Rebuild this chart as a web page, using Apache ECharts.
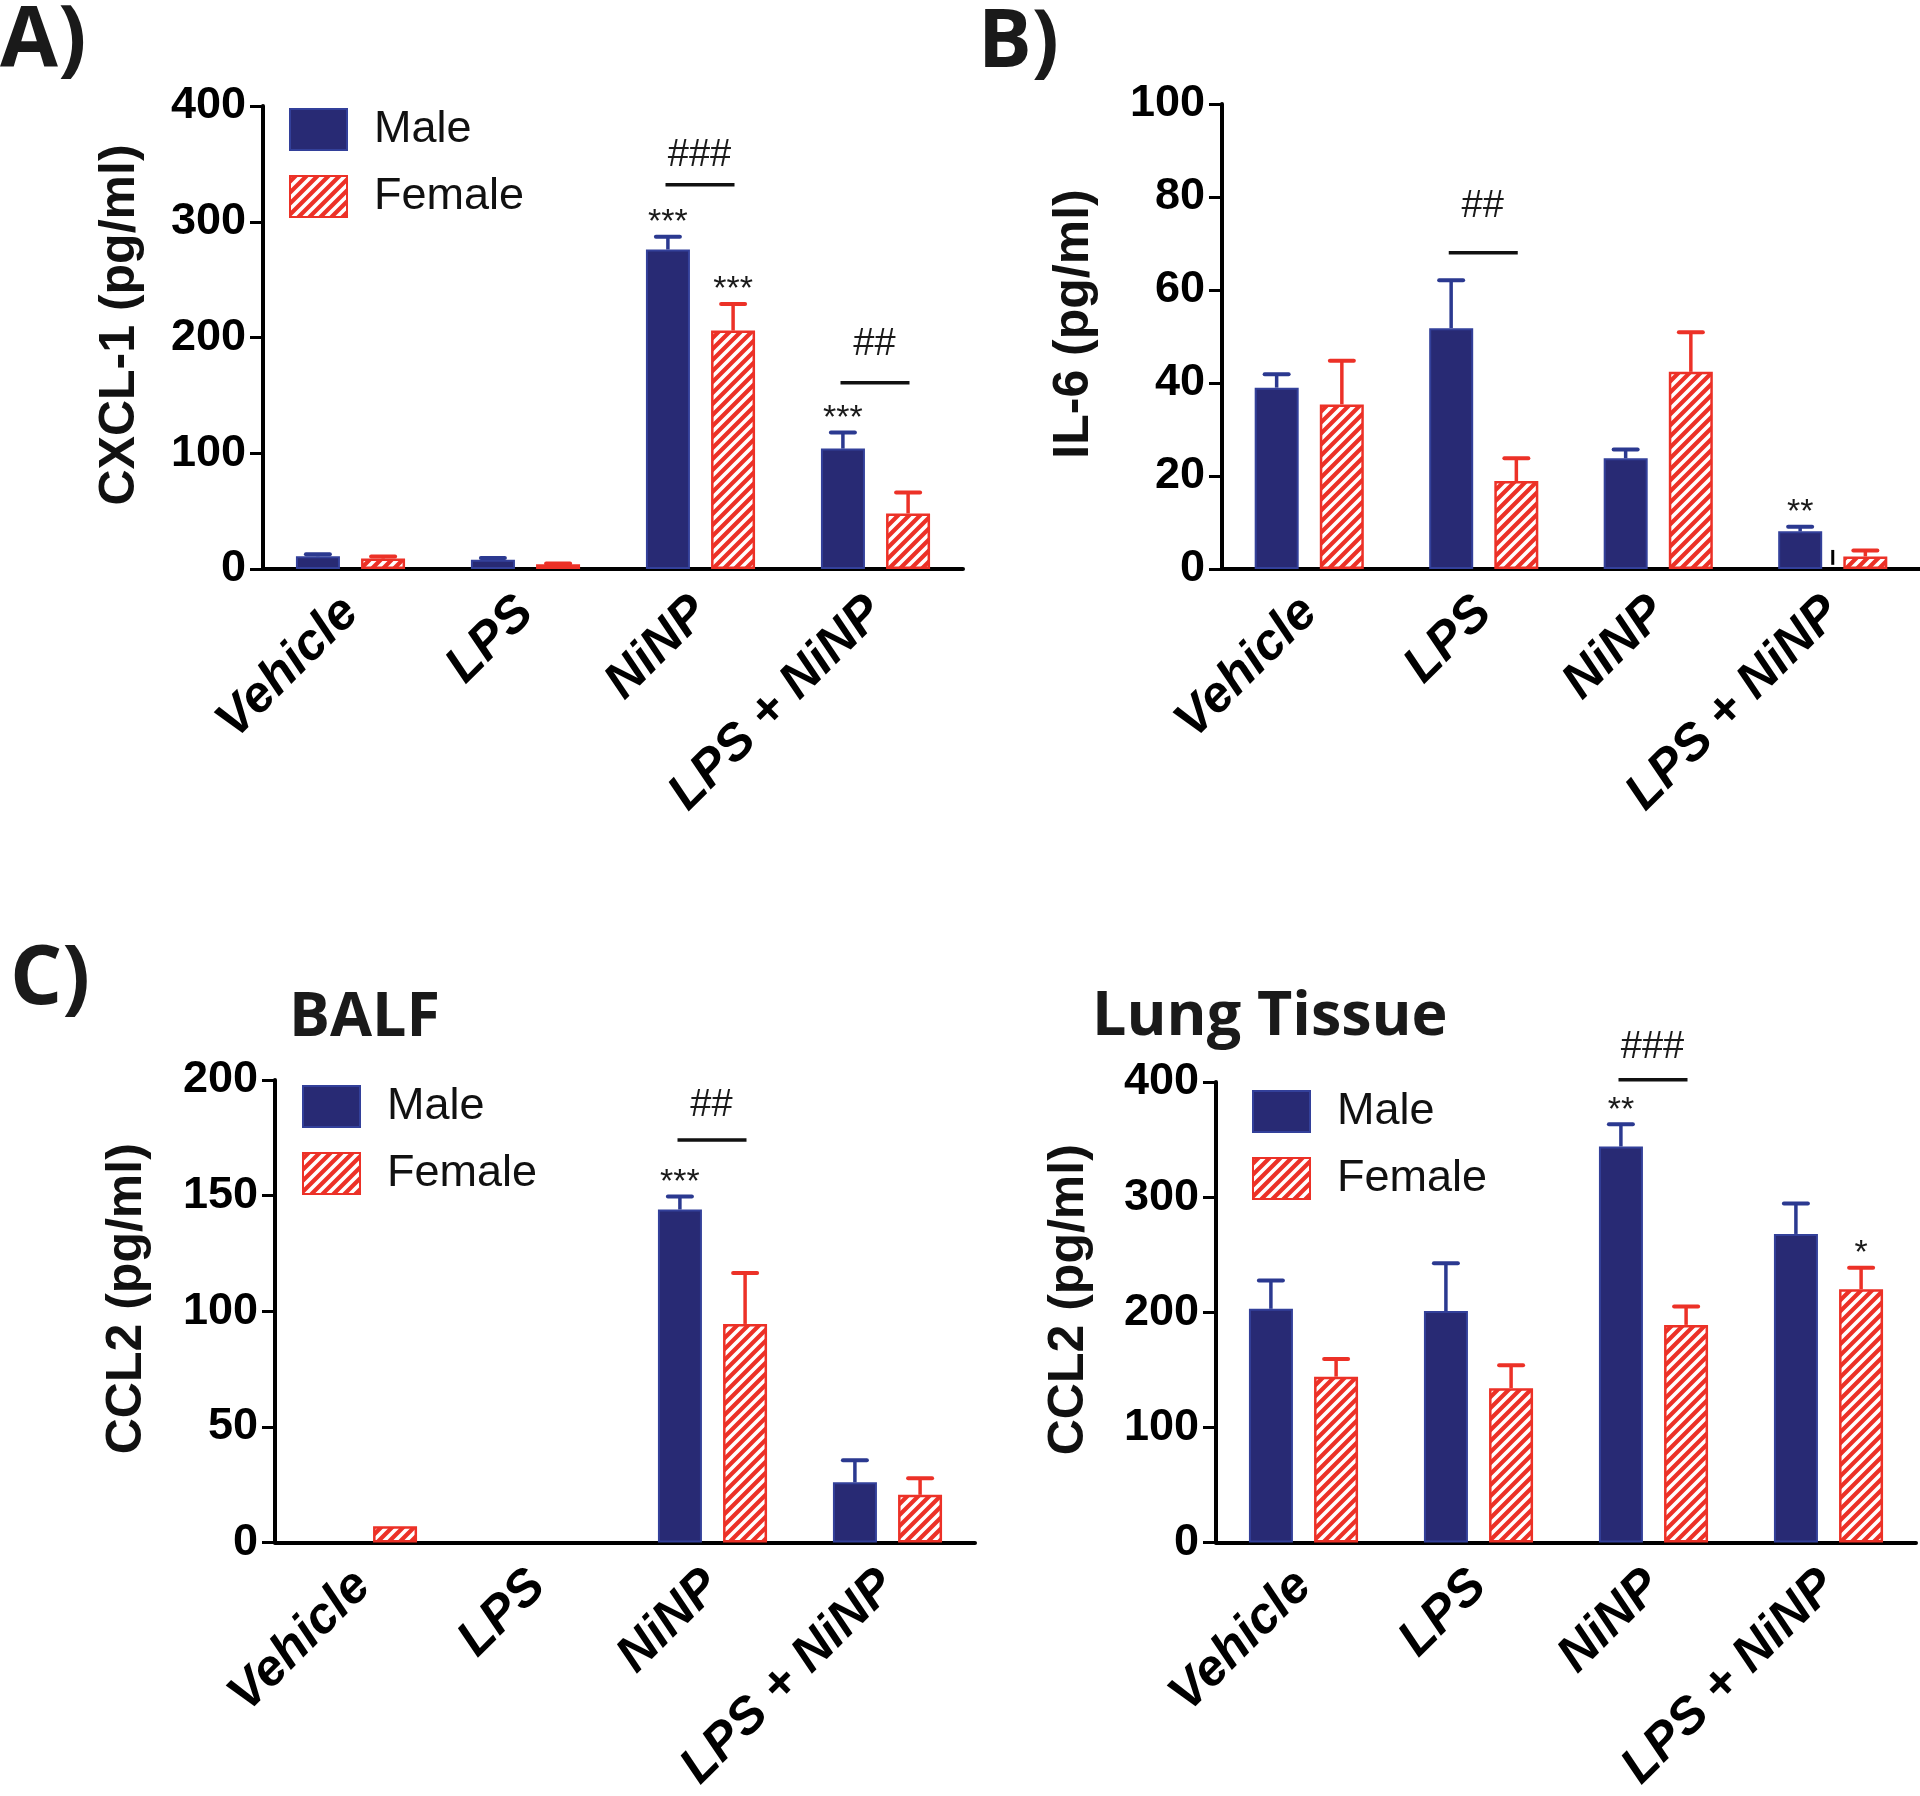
<!DOCTYPE html>
<html><head><meta charset="utf-8">
<script src="https://cdn.jsdelivr.net/npm/echarts@6/dist/echarts.min.js"></script>
<style>html,body{margin:0;padding:0;background:#fff}#c{width:1920px;height:1796px}</style>
</head><body><div id="c"></div>
<script>
// ---------- data ----------
const categories = ['Vehicle', 'LPS', 'NiNP', 'LPS + NiNP'];

const cxclMale = [11, 8, 276, 104];
const cxclMaleErr = [1.7, 1.4, 11, 14];
const cxclFemale = [9, 4, 206, 48];
const cxclFemaleErr = [1.7, 0.7, 23, 18];

const il6Male = [39, 51.8, 23.8, 8.1];
const il6MaleErr = [2.9, 10.3, 1.9, 1.0];
const il6Female = [35.4, 18.9, 42.4, 2.7];
const il6FemaleErr = [9.4, 4.9, 8.5, 1.3];

const balfMale = [0, 0, 144, 26];
const balfMaleErr = [0, 0, 5.6, 9.5];
const balfFemale = [7, 0, 94.5, 20.6];
const balfFemaleErr = [0, 0, 22, 7.2];

const lungMale = [203, 201, 344, 268];
const lungMaleErr = [24.6, 41.5, 19.3, 26.4];
const lungFemale = [144, 134, 189, 220];
const lungFemaleErr = [15.4, 20, 16, 18.6];

// significance marks (bracket level / label level in data units)
const cxclHash = [{cat: 2, text: '###', lineY: 332, textY: 357}, {cat: 3, text: '##', lineY: 161, textY: 194}];
const cxclStars = [{cat: 2, sex: 'M', text: '***'}, {cat: 2, sex: 'F', text: '***'}, {cat: 3, sex: 'M', text: '***'}];
const il6Hash = [{cat: 1, text: '##', lineY: 68, textY: 78}];
const il6Stars = [{cat: 3, sex: 'M', text: '**'}];
const balfHash = [{cat: 2, text: '##', lineY: 174, textY: 189}];
const balfStars = [{cat: 2, sex: 'M', text: '***'}];
const lungHash = [{cat: 2, text: '###', lineY: 402, textY: 430}];
const lungStars = [{cat: 2, sex: 'M', text: '**'}, {cat: 3, sex: 'F', text: '*'}];

// ---------- style ----------
const MALE_FILL = '#282a74';
const MALE_EDGE = '#33409a';
const MALE_ERR = '#2b3990';
const FEMALE = '#ec3127';
const BAR_W = 44;
const OFF = 32.6;

function hatchCanvas() {
  const s = 11, c = document.createElement('canvas');
  c.width = s; c.height = s;
  const g = c.getContext('2d');
  g.fillStyle = FEMALE; g.fillRect(0, 0, s, s);
  g.strokeStyle = '#fff'; g.lineWidth = 3.6;
  g.beginPath();
  g.moveTo(0, s); g.lineTo(s, 0);
  g.moveTo(-s / 2, s / 2); g.lineTo(s / 2, -s / 2);
  g.moveTo(s / 2, s * 1.5); g.lineTo(s * 1.5, s / 2);
  g.stroke();
  return c;
}
const hatch = {image: hatchCanvas(), repeat: 'repeat'};

const panels = [
  {male: cxclMale, maleErr: cxclMaleErr, female: cxclFemale, femaleErr: cxclFemaleErr, max: 400, interval: 100,
   name: 'CXCL-1 (pg/ml)', hash: cxclHash, stars: cxclStars, grid: {left: 263, top: 106, width: 700, height: 463}, nameGap: 118},
  {male: il6Male, maleErr: il6MaleErr, female: il6Female, femaleErr: il6FemaleErr, max: 100, interval: 20,
   name: 'IL-6 (pg/ml)', hash: il6Hash, stars: il6Stars, grid: {left: 1222, top: 104, width: 698, height: 465}, nameGap: 123, stray: {cat: 3, from: 0.9, to: 4.1}},
  {male: balfMale, maleErr: balfMaleErr, female: balfFemale, femaleErr: balfFemaleErr, max: 200, interval: 50,
   name: 'CCL2 (pg/ml)', hash: balfHash, stars: balfStars, grid: {left: 275, top: 1080, width: 700, height: 464}, nameGap: 123},
  {male: lungMale, maleErr: lungMaleErr, female: lungFemale, femaleErr: lungFemaleErr, max: 400, interval: 100,
   name: 'CCL2 (pg/ml)', hash: lungHash, stars: lungStars, grid: {left: 1216, top: 1082, width: 700, height: 464}, nameGap: 122}
];

const grids = [], xAxes = [], yAxes = [], series = [];
panels.forEach((p, i) => {
  grids.push(p.grid);
  xAxes.push({
    type: 'category', gridIndex: i, data: categories,
    axisLine: {lineStyle: {color: '#000', width: 4}},
    axisTick: {alignWithLabel: true, length: 14, lineStyle: {color: '#000', width: 3}},
    axisLabel: {rotate: 45, interval: 0, margin: 36, fontSize: 51, fontWeight: 'bold', fontStyle: 'italic',
                fontFamily: 'Liberation Sans', color: '#000'}
  });
  yAxes.push({
    type: 'value', gridIndex: i, min: 0, max: p.max, interval: p.interval,
    splitLine: {show: false},
    axisLine: {show: true, lineStyle: {color: '#000', width: 4}},
    axisTick: {show: true, length: 13, lineStyle: {color: '#000', width: 3}},
    axisLabel: {margin: 17, fontSize: 45, fontWeight: 'bold', fontFamily: 'Liberation Sans', color: '#000'},
    name: p.name, nameLocation: 'middle', nameGap: p.nameGap,
    nameTextStyle: {fontSize: 50, fontWeight: 'bold', fontFamily: 'Liberation Sans', color: '#111', padding: [0, 0, 0, 25]}
  });
  series.push({
    type: 'bar', name: 'Male', xAxisIndex: i, yAxisIndex: i,
    data: p.male.map(v => v === 0 ? '-' : v), barWidth: BAR_W, barGap: '48%', z: 3,
    itemStyle: {color: MALE_FILL, borderColor: MALE_EDGE, borderWidth: 2}
  });
  series.push({
    type: 'bar', name: 'Female', xAxisIndex: i, yAxisIndex: i,
    data: p.female.map(v => v === 0 ? '-' : v), barWidth: BAR_W, barGap: '48%', z: 3,
    itemStyle: {color: hatch, borderColor: FEMALE, borderWidth: 2.5}
  });
  [[p.male, p.maleErr, -1, MALE_ERR], [p.female, p.femaleErr, 1, FEMALE]].forEach(([vals, errs, side, col]) => {
    series.push({
      type: 'custom', xAxisIndex: i, yAxisIndex: i, z: 4, silent: true,
      data: vals.map((v, k) => [k, v, errs[k]]).filter(d => d[2] > 0),
      renderItem: (params, api) => {
        const k = api.value(0), top = api.value(1), err = api.value(2);
        const p0 = api.coord([k, top]), p1 = api.coord([k, top + err]);
        const x = p0[0] + side * OFF;
        return {type: 'group', children: [
          {type: 'line', shape: {x1: x, y1: p0[1], x2: x, y2: p1[1]}, style: {stroke: col, lineWidth: 3.5}},
          {type: 'line', shape: {x1: x - 12, y1: p1[1], x2: x + 12, y2: p1[1]}, style: {stroke: col, lineWidth: 4, lineCap: 'round'}}
        ]};
      }
    });
  });
  // significance annotations
  const notes = [];
  p.hash.forEach(h => notes.push({kind: 'hash', cat: h.cat, y: h.lineY, ty: h.textY, text: h.text}));
  p.stars.forEach(s => {
    const v = s.sex === 'M' ? p.male[s.cat] + p.maleErr[s.cat] : p.female[s.cat] + p.femaleErr[s.cat];
    notes.push({kind: 'star', cat: s.cat, y: v, side: s.sex === 'M' ? -1 : 1, text: s.text});
  });
  if (p.stray) notes.push({kind: 'stray', cat: p.stray.cat, y: p.stray.from, to: p.stray.to});
  series.push({
    type: 'custom', xAxisIndex: i, yAxisIndex: i, z: 5, silent: true,
    data: notes.map(n => [n.cat, n.y]),
    renderItem: (params, api) => {
      const n = notes[params.dataIndex];
      const c = api.coord([n.cat, n.y]);
      if (n.kind === 'hash') {
        const t = api.coord([n.cat, n.ty]);
        return {type: 'group', children: [
          {type: 'line', shape: {x1: c[0] - 35, y1: c[1], x2: c[0] + 34, y2: c[1]}, style: {stroke: '#111', lineWidth: 3.5}},
          {type: 'text', x: c[0] - 1, y: t[1], style: {text: n.text, align: 'center', verticalAlign: 'middle',
            fontSize: 38, fontFamily: 'Liberation Sans', fill: '#1a1a1a'}}
        ]};
      }
      if (n.kind === 'stray') {
        const c2 = api.coord([n.cat, n.to]);
        return {type: 'line', shape: {x1: c[0], y1: c[1], x2: c[0], y2: c2[1]}, style: {stroke: '#000', lineWidth: 3}};
      }
      return {type: 'text', x: c[0] + n.side * OFF, y: c[1] - 14, style: {text: n.text, align: 'center', verticalAlign: 'middle',
        fontSize: 34, fontFamily: 'Liberation Sans', fill: '#1a1a1a'}};
    }
  });
});

const legendBase = {
  data: ['Male', 'Female'], orient: 'vertical', icon: 'rect', itemWidth: 57, itemHeight: 41, itemGap: 22, padding: 0,
  selectedMode: false, textStyle: {fontSize: 45, fontFamily: 'Liberation Sans', color: '#111', padding: [0, 0, 0, 22]}
};
const legends = [
  Object.assign({}, legendBase, {left: 289, top: 107}),
  Object.assign({}, legendBase, {left: 302, top: 1084}),
  Object.assign({}, legendBase, {left: 1252, top: 1089})
];

const bigFont = 'Open Sans';
const graphics = [
  {type: 'text', left: 0, top: 0, style: {text: 'A)', fontSize: 84, fontWeight: 'bold', fontFamily: bigFont, fill: '#1a1a1a'}},
  {type: 'text', left: 978, top: 4, style: {text: 'B)', fontSize: 80, fontWeight: 'bold', fontFamily: bigFont, fill: '#1a1a1a'}},
  {type: 'text', left: 10, top: 940, style: {text: 'C)', fontSize: 82, fontWeight: 'bold', fontFamily: bigFont, fill: '#1a1a1a'}},
  {type: 'text', left: 289, top: 988, style: {text: 'BALF', fontSize: 61, fontWeight: 'bold', fontFamily: bigFont, fill: '#1a1a1a'}},
  {type: 'text', left: 1092, top: 987, style: {text: 'Lung Tissue', fontSize: 61, fontWeight: 'bold', fontFamily: bigFont, fill: '#1a1a1a'}}
];

const chart = echarts.init(document.getElementById('c'), null, {renderer: 'canvas'});
chart.setOption({
  animation: false,
  backgroundColor: '#fff',
  grid: grids, xAxis: xAxes, yAxis: yAxes, series: series,
  legend: legends, graphic: graphics
});
</script></body></html>
